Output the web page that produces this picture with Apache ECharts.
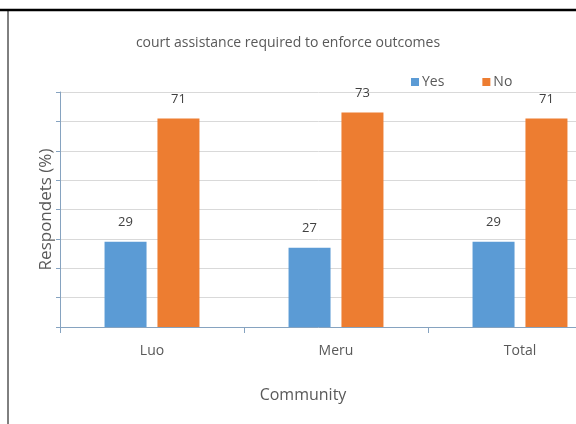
<!DOCTYPE html>
<html>
<head>
<meta charset="utf-8">
<script src="https://cdn.jsdelivr.net/npm/echarts@6/dist/echarts.min.js"></script>
<style>
html,body{margin:0;padding:0;background:#fff;}
#c{width:576px;height:424px;}
</style>
</head>
<body>
<div id="c"></div>
<script>
const categories = ['Luo', 'Meru', 'Total'];
const yesValues = [29, 27, 29];
const noValues = [71, 73, 71];
const seriesNames = ['Yes', 'No'];
const titleText = 'court assistance required to enforce outcomes';
const xName = 'Community';
const yName = 'Respondets (%)';

const FONT = '"Open Sans", "Liberation Sans", sans-serif';
const chart = echarts.init(document.getElementById('c'), null, {renderer: 'canvas'});
const labelStyle = {show: true, position: 'top', distance: 13, color: '#404040', fontSize: 13, fontFamily: FONT};
chart.setOption({
  animation: false,
  backgroundColor: '#ffffff',
  title: {
    text: titleText, left: 'center', top: 31,
    textStyle: {fontFamily: FONT, fontSize: 14, fontWeight: 'normal', color: '#595959'}
  },
  legend: {
    left: 406, top: 70, itemWidth: 8, itemHeight: 8, itemGap: 38,
    icon: 'rect',
    textStyle: {fontFamily: FONT, fontSize: 14, color: '#595959', padding: [0, 0, 0, -2]},
    data: seriesNames
  },
  grid: {left: 60, top: 92, width: 552, height: 235, containLabel: false, outerBoundsMode: 'none'},
  xAxis: {
    type: 'category', data: categories,
    name: xName, nameLocation: 'middle', nameGap: 60,
    nameTextStyle: {fontFamily: FONT, fontSize: 16, color: '#595959', padding: [0, 66, 0, 0]},
    axisLine: {lineStyle: {color: '#86a3c0', width: 1}},
    axisTick: {show: true, length: 6, lineStyle: {color: '#86a3c0'}},
    axisLabel: {margin: 17, fontFamily: FONT, fontSize: 14, color: '#595959'}
  },
  yAxis: {
    type: 'value', min: 0, max: 80, interval: 10,
    name: yName, nameLocation: 'middle', nameGap: 5,
    nameTextStyle: {fontFamily: FONT, fontSize: 17, color: '#595959'},
    axisLine: {show: true, lineStyle: {color: '#86a3c0', width: 1}},
    axisTick: {show: true, length: 4, lineStyle: {color: '#86a3c0'}},
    axisLabel: {show: false},
    splitLine: {lineStyle: {color: '#d9d9d9', width: 1}}
  },
  series: [
    {name: seriesNames[0], type: 'bar', data: yesValues, itemStyle: {color: '#5b9bd5'},
     barWidth: 42, barGap: '26%', label: labelStyle},
    {name: seriesNames[1], type: 'bar', data: noValues, itemStyle: {color: '#ed7d31'},
     barWidth: 42, label: labelStyle}
  ],
  graphic: [
    {type: 'line', shape: {x1: 0, y1: 10, x2: 576, y2: 10}, style: {stroke: '#000', lineWidth: 2.5}, z: 100},
    {type: 'line', shape: {x1: 8, y1: 10, x2: 8, y2: 424}, style: {stroke: '#000', lineWidth: 1}, z: 100}
  ]
});
</script>
</body>
</html>
